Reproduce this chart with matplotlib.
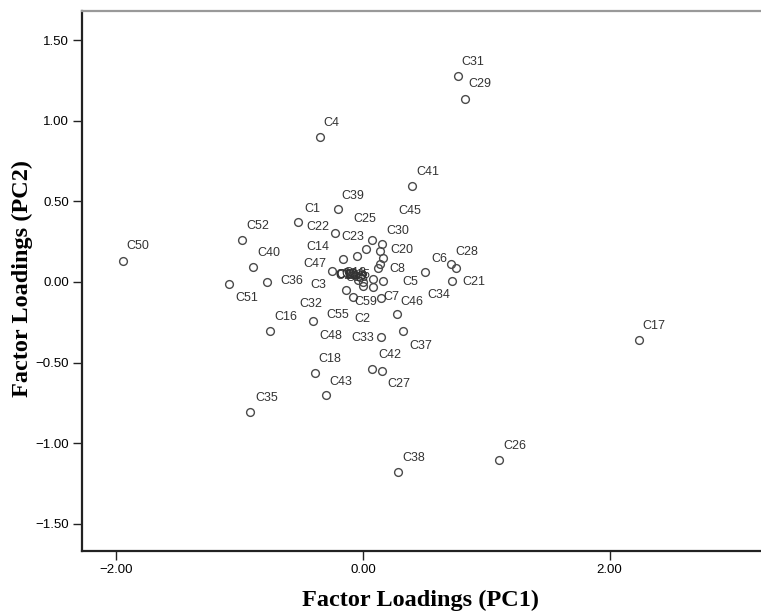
import matplotlib
matplotlib.use("Agg")
import matplotlib.pyplot as plt
from matplotlib.ticker import FuncFormatter

# variable names and their loadings on the first two components
names = ["C50", "C31", "C29", "C4", "C41", "C17", "C26", "C38", "C35",
         "C39", "C1", "C52", "C22", "C25", "C30", "C23", "C45", "C24",
         "C20", "C14", "C8", "C9", "C47", "C40", "C36", "C51", "C34",
         "C6", "C28", "C21", "C5", "C3", "C59", "C19", "C7", "C46",
         "C32", "C37", "C16", "C33", "C42", "C27", "C18", "C43", "C55",
         "C48", "C2", "C10", "C11", "C12", "C13", "C15"]
pc1 = [-1.949, 0.773, 0.827, -0.349, 0.400, 2.241, 1.103, 0.286, -0.914,
       -0.205, -0.530, -0.979, -0.227, 0.075, 0.157, 0.022, 0.138, -0.051,
       0.160, -0.160, 0.119, 0.134, -0.249, -0.890, -0.781, -1.087, 0.503,
       0.714, 0.752, 0.724, 0.160, -0.140, -0.079, 0.084, 0.144, 0.273,
       -0.403, 0.322, -0.754, 0.146, 0.075, 0.152, -0.389, -0.303, -0.105,
       -0.065, -0.024, -0.038, 0.002, -0.016, 0.079, 0.002]
pc2 = [0.132, 1.279, 1.135, 0.899, 0.597, -0.360, -1.104, -1.180, -0.808,
       0.451, 0.374, 0.260, 0.302, 0.260, 0.234, 0.203, 0.192, 0.161,
       0.151, 0.141, 0.089, 0.112, 0.070, 0.095, 0.002, -0.014, 0.064,
       0.110, 0.089, 0.008, 0.006, -0.050, -0.095, -0.029, -0.101, -0.200,
       -0.240, -0.304, -0.302, -0.343, -0.539, -0.550, -0.566, -0.701, 0.054,
       0.043, 0.033, 0.012, 0.002, 0.043, 0.019, -0.025]

# label placement, pixels right / down from the point (as spss laid them out)
label_offsets = [(4, -14.7), (3.4, -13.4), (3.3, -14.7), (3.5, -14), (3.7, -13.4),
                 (3.5, -14), (4.3, -14.3), (4.4, -14.6), (4.7, -14),
                 (4, -13.6), (6.6, -12.4), (4.4, -14), (-29, -6), (-19, -20.7),
                 (3.7, -13.6), (-24, -12), (18.3, -40.3), (-15.7, 18),
                 (7.3, -7.7), (-36.6, -12.6), (11.3, 1.6), (-43.5, 11),
                 (-29, -6.7), (4, -14), (13.3, -0.7), (6, 14), (2.3, 23.3),
                 (-20, -5.3), (0, -16), (10, 1.6), (20, 1.3), (-35, -5),
                 (0.7, 4.4), (-29.3, -10.7), (2.6, -1.6), (4, -12.6),
                 (-14, -16.7), (6.6, 14.7), (4, -14), (-29.3, 1), (6, -14),
                 (5.6, 13.3), (3.3, -14), (3.6, -13.3), (-24, 41.7),
                 (-35.7, 60.7), (-5.7, 42.6), (-23.3, -5), (-27.8, -5.7),
                 (-18, -2), (-27.7, -1), (-16.3, -11)]

fig = plt.figure(figsize=(7.61, 6.12), dpi=100)
ax = fig.add_axes([82 / 761, 61 / 612, 679 / 761, 540 / 612])

ax.plot(pc1, pc2, linestyle="none", marker="o", markersize=5.6,
        markerfacecolor="none", markeredgecolor="#4a4a4a", markeredgewidth=1.0)

for name, x, y, (dx, dy) in zip(names, pc1, pc2, label_offsets):
    ax.annotate(name, (x, y), xytext=(dx * 0.72, -dy * 0.72),
                textcoords="offset points", ha="left", va="center",
                fontsize=9, family="Liberation Sans", color="#333333")

ax.set_xlim(-2.279, 3.228)
ax.set_ylim(-1.668, 1.680)
ax.set_xticks([-2, 0, 2])
ax.set_yticks([-1.5, -1.0, -0.5, 0.0, 0.5, 1.0, 1.5])
fmt = FuncFormatter(lambda v, p: f"{v:.2f}".replace("-", "\u2212"))
ax.xaxis.set_major_formatter(fmt)
ax.yaxis.set_major_formatter(fmt)
ax.tick_params(direction="out", length=6.5, width=1.0, color="#222222",
               labelsize=9.5, pad=3)
for lab in ax.get_xticklabels() + ax.get_yticklabels():
    lab.set_family("Liberation Sans")

ax.spines["right"].set_visible(False)
ax.spines["top"].set_color("#999999")
ax.spines["top"].set_linewidth(1.6)
for side in ["left", "bottom"]:
    ax.spines[side].set_color("#222222")
    ax.spines[side].set_linewidth(1.6)

fig.text(421 / 761, 1 - 600 / 612, "Factor Loadings (PC1)", ha="center",
         va="center", fontsize=17.5, fontweight="bold", family="Liberation Serif")
fig.text(22 / 761, 1 - 279 / 612, "Factor Loadings (PC2)", ha="center",
         va="center", rotation=90, fontsize=17.5, fontweight="bold",
         family="Liberation Serif")

fig.savefig("out.png", dpi=100)
